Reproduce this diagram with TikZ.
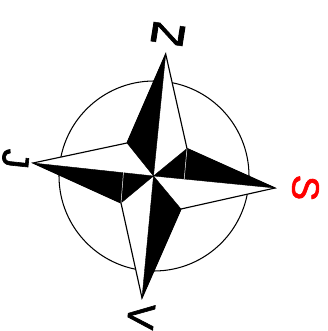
\documentclass[tikz,border=0pt]{standalone}
\usepackage{fontspec}
\setmainfont[FakeBold=1.6]{Liberation Sans}
\tikzset{
  ring/.style={draw=black,line width=1.05pt,fill=white},
  starout/.style={draw=black,line width=1.15pt,fill=white,line join=miter},
  blade/.style={fill=black,draw=black,line width=0.4pt},
  seam/.style={draw=white,line width=0.5pt},
  letter/.style={inner sep=0pt,font=\fontsize{38}{38}\selectfont}
}
\begin{document}
\begin{tikzpicture}[x=1pt,y=-1pt]
\useasboundingbox (0,0) rectangle (328,331);
\coordinate (c) at (153.5,176);
\coordinate (n) at (165.7,54);
\coordinate (e) at (275,188);
\coordinate (s) at (142,298);
\coordinate (w) at (33,163);
\coordinate (nw) at (127,143);
\coordinate (ne) at (187,148.5);
\coordinate (se) at (181,209);
\coordinate (sw) at (121,203);
\coordinate (sa) at (123.5,172);
\coordinate (sb) at (184.2,179);
\draw[ring] (154,176) circle (95);
\draw[starout] (n) -- (ne) -- (e) -- (se) -- (s) -- (sw) -- (w) -- (nw) -- cycle;
\fill[blade] (c) -- (nw) -- (n) -- cycle;
\fill[blade] (c) -- (ne) -- (e) -- cycle;
\fill[blade] (c) -- (se) -- (s) -- cycle;
\fill[blade] (c) -- (sw) -- (w) -- cycle;
\draw[seam] (sa) -- (sw);
\draw[seam] (sb) -- (ne);
\node[letter,rotate=-9,xscale=1.48,yscale=0.74] (ln) at (168,34) {N};
\node[letter,rotate=-96,text=red] (ls) at (305.5,188) {S};
\node[letter,rotate=-96] (lv) at (141,316.5) {V};
\node[letter,rotate=-96] (lj) at (15.5,159) {J};
\end{tikzpicture}
\end{document}
